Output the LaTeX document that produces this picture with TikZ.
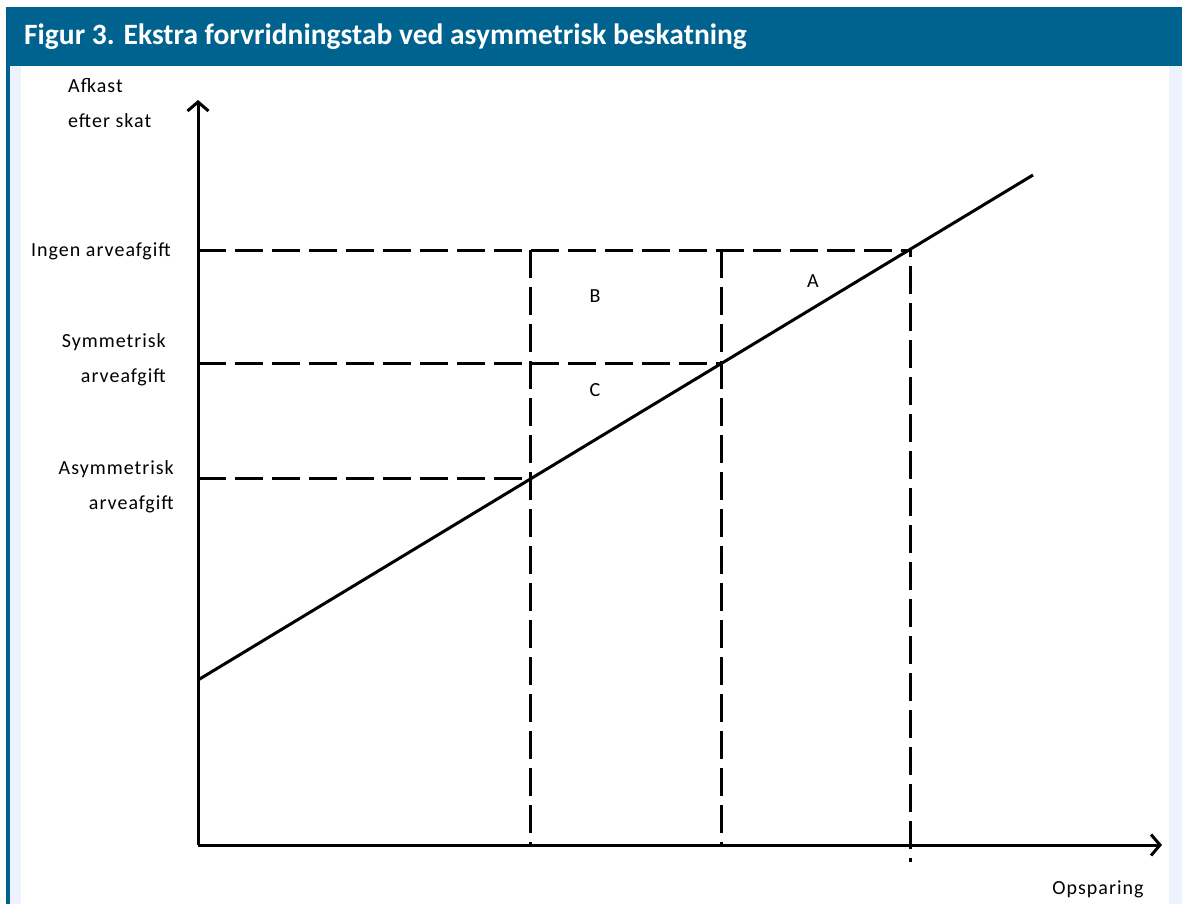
\documentclass[tikz,border=0pt]{standalone}
\usepackage{fontspec}
\setmainfont{Carlito}
\usetikzlibrary{arrows.meta, positioning}
\definecolor{headblue}{RGB}{0,98,143}
\definecolor{sideblue}{RGB}{237,242,252}
\tikzset{
  axis/.style={line width=3pt, -{Straight Barb[length=9pt,width=21pt,line width=3pt]}},
  helpline/.style={line width=3pt, dash pattern=on 28pt off 9pt},
  lbl/.style={inner sep=0pt, font=\fontsize{20}{35}\selectfont\addfontfeature{LetterSpace=5}}
}
\begin{document}
\begin{tikzpicture}[x=1pt,y=-1pt]
  \useasboundingbox (0,0) rectangle (1182,904);
  % Frame and header
  \fill[headblue] (6,7) rectangle (1182,66);
  \fill[headblue] (6,66) rectangle (10,904);
  \fill[sideblue] (10,66) rectangle (21,904);
  \fill[sideblue] (1169,66) rectangle (1182,904);
  \node[anchor=west, text=white, inner sep=0pt, font=\fontsize{29.5}{32}\bfseries\selectfont] (title) at (24,37) {Figur 3. Ekstra forvridningstab ved asymmetrisk beskatning};

  % Axes
  \coordinate (o) at (198,845);
  \coordinate (ytop) at (198,100);
  \coordinate (xend) at (1162,845);
  \draw[axis] (o) -- (ytop);
  \draw[axis] (o) -- (xend);

  % Return line
  \coordinate (l0) at (198,680);
  \coordinate (l1) at (1033,175);
  \coordinate (pa) at (530,478);
  \coordinate (ps) at (721,363);
  \coordinate (pi) at (910,250);
  \coordinate (tick) at (910,862);
  \draw[line width=3pt] (l0) -- (l1);

  % Dashed guides
  \draw[helpline] (o |- pi) -- (pi);
  \draw[helpline] (o |- ps) -- (ps);
  \draw[helpline] (o |- pa) -- (pa);
  \draw[helpline] (pa |- pi) -- (pa |- o);
  \draw[helpline] (ps |- pi) -- (ps |- o);
  \draw[helpline, dash phase=21pt] (pi) -- (tick);

  % Labels
  \node[lbl, anchor=west, align=left] (yname) at (68,103) {Afkast\\efter skat};
  \node[lbl, anchor=east] (ingen) at (171,251) {Ingen arveafgift};
  \node[lbl, anchor=east, align=right] (sym) at (166,360) {Symmetrisk\\arveafgift};
  \node[lbl, anchor=east, align=right] (asym) at (174,487) {Asymmetrisk\\arveafgift};
  \node[lbl] (xname) at (1098,889) {Opsparing};
  \node[lbl] (areaA) at (813,281) {A};
  \node[lbl] (areaB) at (595,296) {B};
  \node[lbl] (areaC) at (595,390) {C};
\end{tikzpicture}
\end{document}
